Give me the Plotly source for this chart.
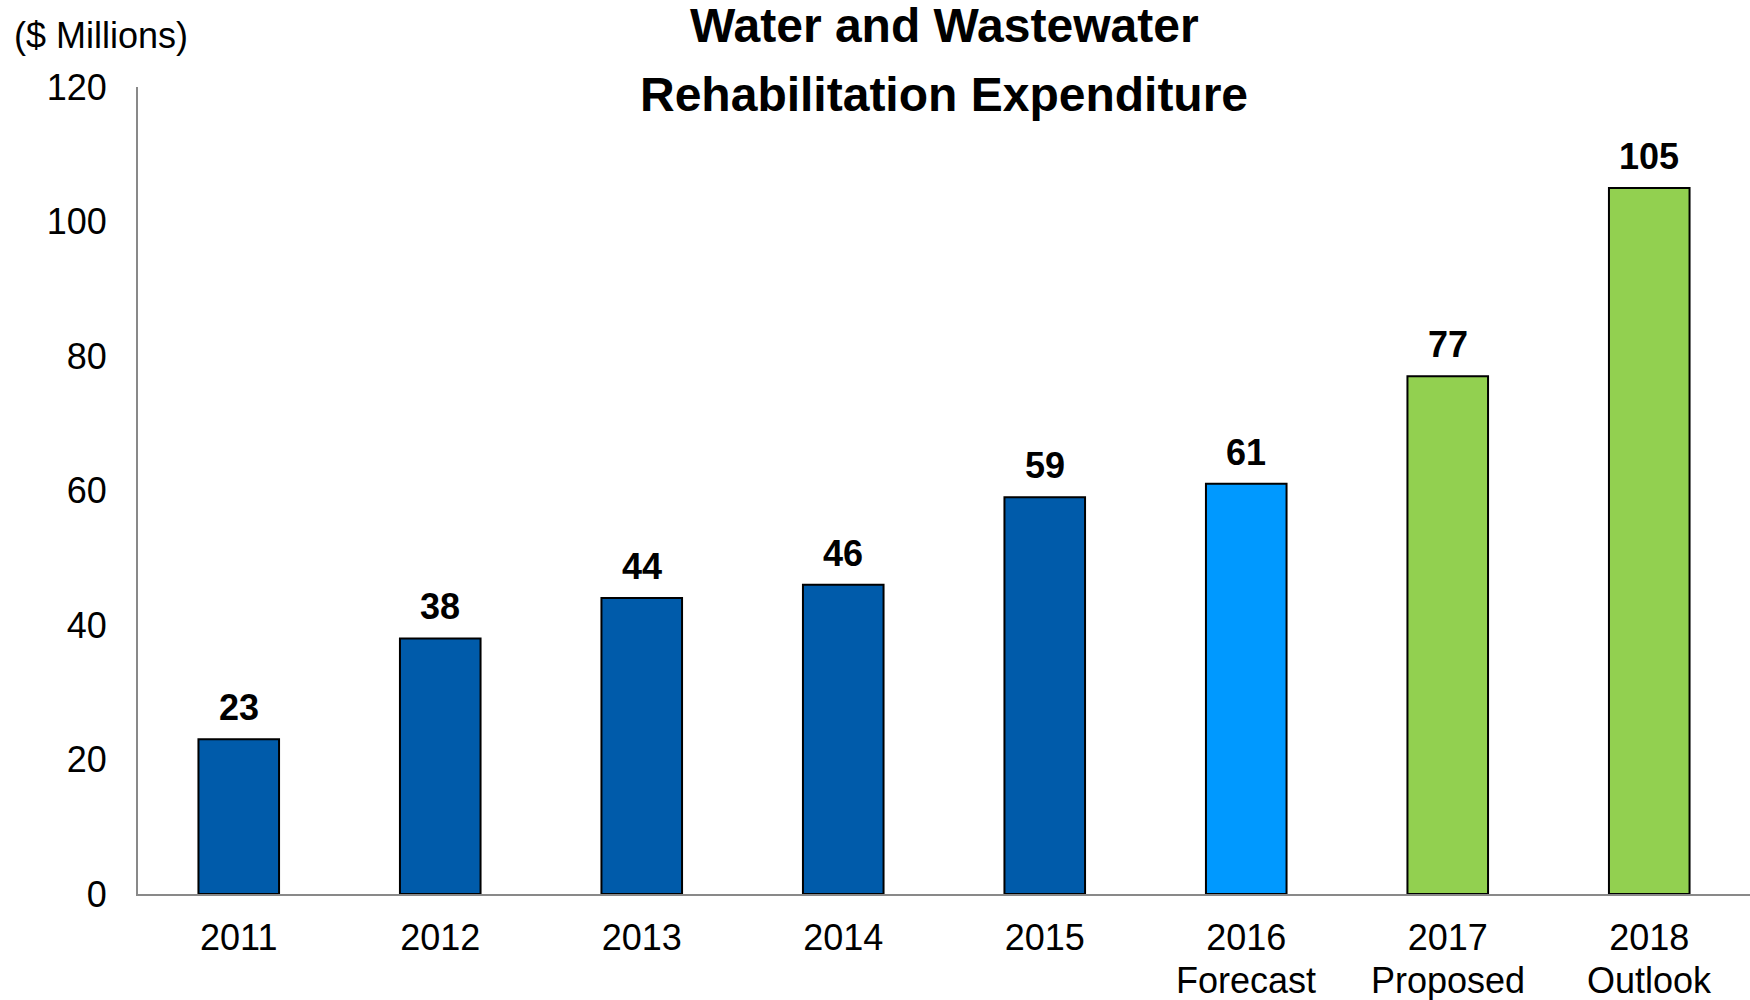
import plotly.graph_objects as go

years = ["2011", "2012", "2013", "2014", "2015", "2016", "2017", "2018"]
sublabels = ["", "", "", "", "", "Forecast", "Proposed", "Outlook"]
values = [23, 38, 44, 46, 59, 61, 77, 105]
bar_colors = ["#005BAA", "#005BAA", "#005BAA", "#005BAA", "#005BAA", "#0099FF", "#92D050", "#92D050"]
y_ticks = [0, 20, 40, 60, 80, 100, 120]
title_lines = ["Water and Wastewater", "Rehabilitation Expenditure"]
unit_label = "($ Millions)"

FONT = "Liberation Sans, Arial, sans-serif"
xpos = list(range(len(years)))

fig = go.Figure()
fig.add_trace(go.Bar(
    x=xpos, y=values,
    marker=dict(color=bar_colors, line=dict(color="#000000", width=2)),
    width=0.4,
    hoverinfo="skip",
))

for i, v in zip(xpos, values):
    fig.add_annotation(x=i, y=v, text=f"<b>{v}</b>", showarrow=False,
                       yanchor="bottom", yshift=9,
                       font=dict(family=FONT, size=36, color="#000000"))

for i, s in zip(xpos, sublabels):
    if s:
        fig.add_annotation(x=i, y=0, text=s, showarrow=False,
                           yanchor="middle", yshift=-86,
                           font=dict(family=FONT, size=36, color="#000000"))

for line, shift in zip(title_lines, [62, -7]):
    fig.add_annotation(xref="paper", yref="paper", x=0.5, y=1, yanchor="middle", yshift=shift,
                       text="<b>" + line + "</b>", showarrow=False,
                       font=dict(family=FONT, size=48, color="#000000"))

fig.add_annotation(xref="paper", yref="paper", x=0.0, xshift=-126, y=1, yshift=52,
                   xanchor="left", yanchor="middle",
                   text=unit_label, showarrow=False,
                   font=dict(family=FONT, size=36, color="#000000"))

fig.update_layout(
    width=1750, height=1000,
    margin=dict(l=138, r=0, t=87, b=106, pad=0, autoexpand=False),
    paper_bgcolor="white", plot_bgcolor="white",
    showlegend=False,
    font=dict(family=FONT, size=36, color="#000000"),
    xaxis=dict(range=[-0.5, len(years) - 0.5], tickvals=xpos, ticktext=years,
               showline=True, linecolor="#898989", linewidth=2, showgrid=False, zeroline=False,
               ticks="", tickfont=dict(size=36), ticklabelstandoff=11, automargin=False),
    yaxis=dict(range=[0, 120], tickvals=y_ticks, showline=True, linecolor="#898989",
               linewidth=2, showgrid=False, zeroline=False, ticks="",
               tickfont=dict(size=36), ticklabelstandoff=22, automargin=False),
)

fig.write_html("out.html")
